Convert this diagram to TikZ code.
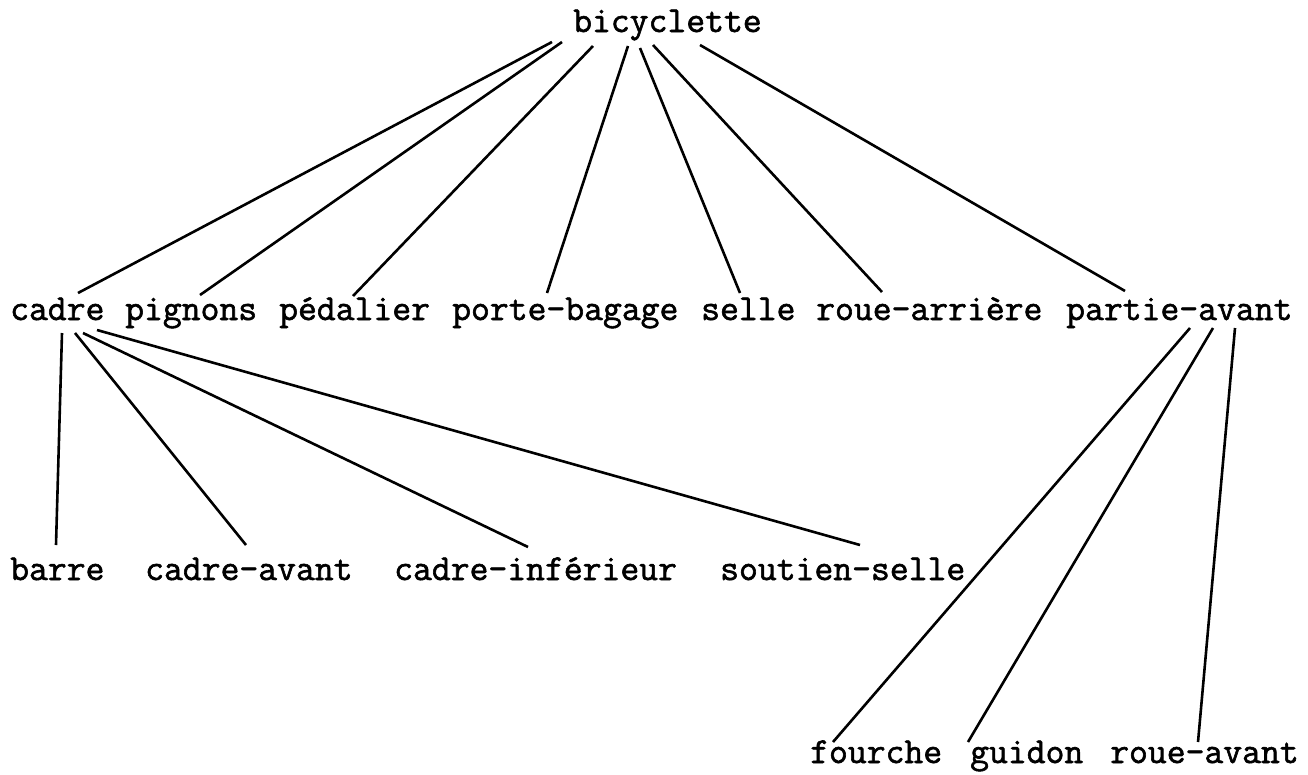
\documentclass[tikz,border=0pt]{standalone}
\usepackage{fontspec}
\newfontfamily\treefont[FakeBold=1.6]{Latin Modern Mono}
\usetikzlibrary{calc}
\begin{document}
\begin{tikzpicture}[x=1pt,y=-1pt,
  lbl/.style={font=\treefont\fontsize{36.6}{42}\selectfont, anchor=base west, inner sep=0pt},
  edge/.style={line width=2.6pt}]
\useasboundingbox (0,0) rectangle (1308,774);
\fill[white] (0,0) rectangle (1308,774);
\node[lbl] (bic) at (573,32) {bicyclette};
\node[lbl] (cadre) at (10,320) {cadre};
\node[lbl] (pign) at (125,320) {pignons};
\node[lbl] (peda) at (279,320) {pédalier};
\node[lbl] (porte) at (452,320) {porte-bagage};
\node[lbl] (selle) at (701,320) {selle};
\node[lbl] (rouea) at (816,320) {roue-arrière};
\node[lbl] (part) at (1066,320) {partie-avant};
\node[lbl] (barre) at (10,580) {barre};
\node[lbl] (cav) at (145,580) {cadre-avant};
\node[lbl] (cinf) at (394,580) {cadre-inférieur};
\node[lbl] (sout) at (720,580) {soutien-selle};
\node[lbl] (four) at (810,763) {fourche};
\node[lbl] (guid) at (970,763) {guidon};
\node[lbl] (rav) at (1110,763) {roue-avant};
% bicyclette
\draw[edge] ($(bic.base west)+(-21,10)$) -- ($(cadre.base west)+(68,-27)$);
\draw[edge] ($(bic.base west)+(-11,10)$) -- ($(pign.base west)+(75,-25)$);
\draw[edge] ($(bic.base west)+(20,14)$) -- ($(peda.base west)+(74,-24)$);
\draw[edge] ($(bic.base west)+(55,14)$) -- ($(porte.base west)+(95,-27)$);
\draw[edge] ($(bic.base west)+(67,16)$) -- ($(selle.base west)+(39,-27)$);
\draw[edge] ($(bic.base west)+(80,13)$) -- ($(rouea.base west)+(66,-28)$);
\draw[edge] ($(bic.base west)+(127,13)$) -- ($(part.base west)+(59,-29)$);
% cadre
\draw[edge] ($(cadre.base west)+(52,13)$) -- ($(barre.base west)+(46,-35)$);
\draw[edge] ($(cadre.base west)+(65,13)$) -- ($(cav.base west)+(101,-35)$);
\draw[edge] ($(cadre.base west)+(73,13)$) -- ($(cinf.base west)+(134,-33)$);
\draw[edge] ($(cadre.base west)+(87,10)$) -- ($(sout.base west)+(140,-35)$);
% partie-avant
\draw[edge] ($(part.base west)+(124,8)$) -- ($(four.base west)+(23,-21)$);
\draw[edge] ($(part.base west)+(147,8)$) -- ($(guid.base west)+(-2,-21)$);
\draw[edge] ($(part.base west)+(169,8)$) -- ($(rav.base west)+(88,-21)$);
\end{tikzpicture}
\end{document}
